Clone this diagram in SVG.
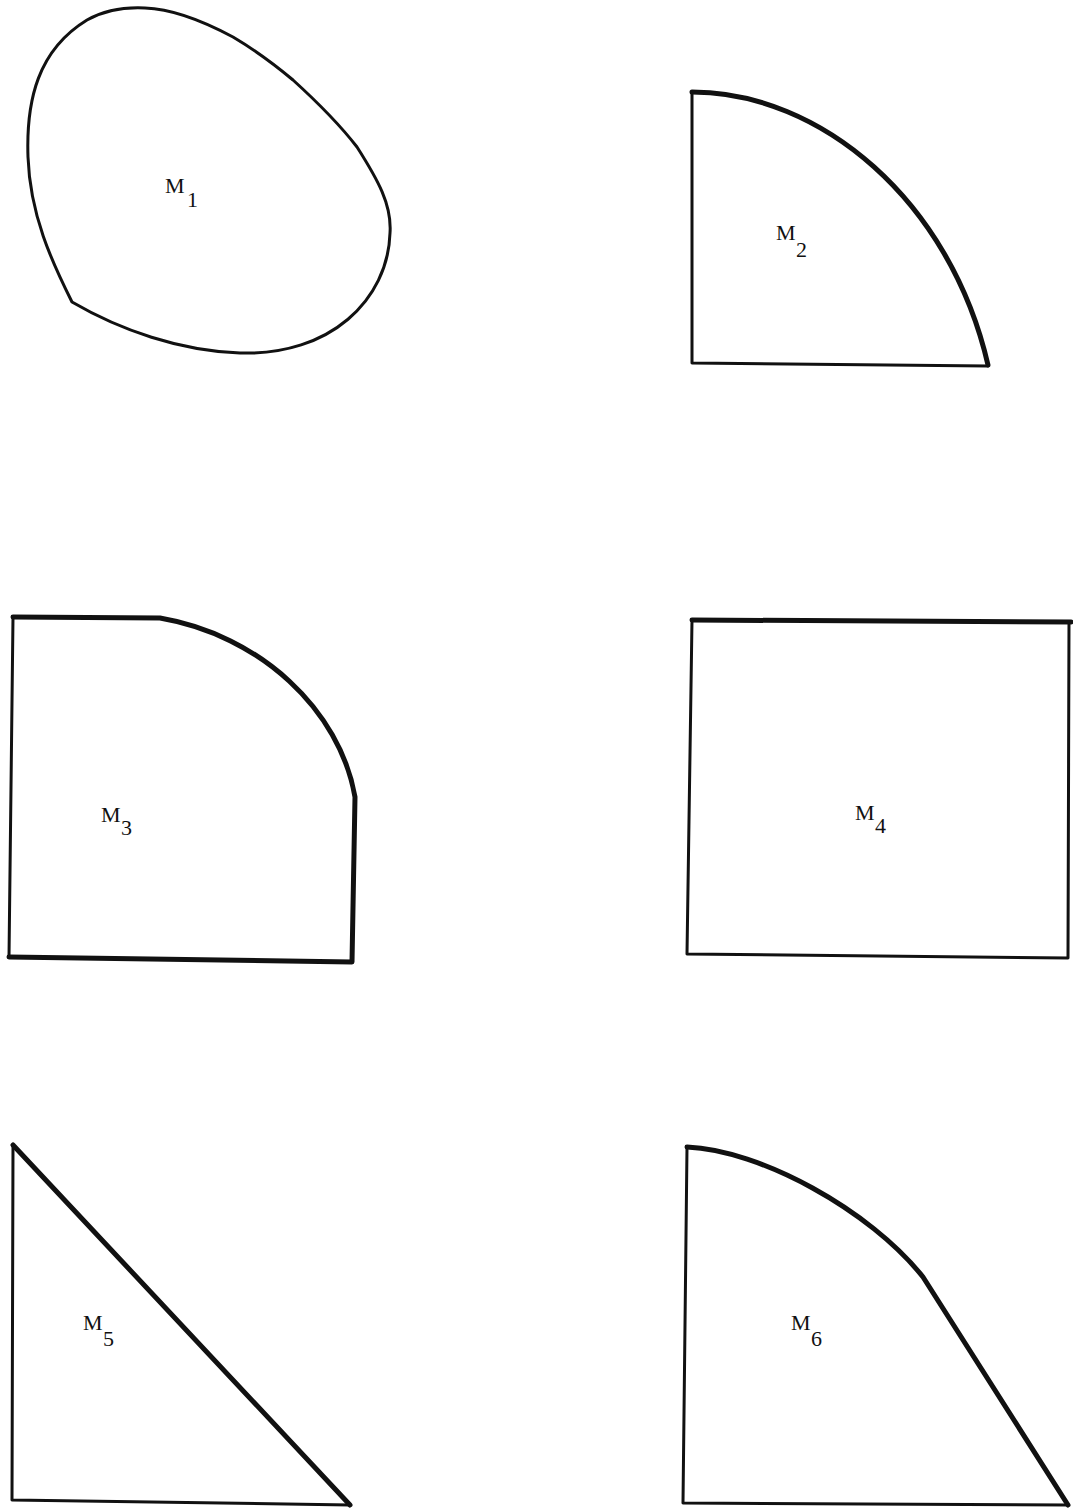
<svg xmlns="http://www.w3.org/2000/svg" width="1073" height="1510" viewBox="0 0 1073 1510">
<style>
.thin{fill:none;stroke:#111;stroke-width:3;stroke-linejoin:round;stroke-linecap:round}
.thick{fill:none;stroke:#111;stroke-width:5;stroke-linejoin:round;stroke-linecap:round}
.lbl{font-family:"Liberation Serif","DejaVu Serif",serif;font-size:22px;fill:#111}
</style>
<rect width="1073" height="1510" fill="#fff"/>
<g id="M1">
<path class="thin" d="M72,302 C52,262 30,215 28,157 C26,100 38,50 87,20 C105,10 125,7 145,8 C175,9 205,22 233,37 C255,50 275,65 293,80 C315,100 340,125 357,147 C378,180 392,205 390,233 C388,300 330,356 240,353 C180,351 120,330 72,302 Z"/>
<text class="lbl" x="165" y="193">M</text><text class="lbl" x="187" y="207">1</text>
</g>
<g id="M2">
<path class="thin" d="M692,92 L692,363 L988,366"/>
<path class="thick" d="M692,92 C820,92 950,200 988,365"/>
<text class="lbl" x="776" y="240">M</text><text class="lbl" x="796" y="257">2</text>
</g>
<g id="M3">
<path class="thin" d="M13,617 L9,957"/>
<path class="thick" d="M9,957 L352,962 L355,797 C340,710 260,635 160,618 L13,617"/>
<text class="lbl" x="101" y="822">M</text><text class="lbl" x="121" y="835">3</text>
</g>
<g id="M4">
<path class="thin" d="M692,620 L687,954 L1068,958 L1069,622"/>
<path class="thick" d="M692,620 L1071,622"/>
<text class="lbl" x="855" y="820">M</text><text class="lbl" x="875" y="833">4</text>
</g>
<g id="M5">
<path class="thin" d="M13,1145 L12,1500 L350,1505"/>
<path class="thick" d="M13,1145 L350,1505"/>
<text class="lbl" x="83" y="1330">M</text><text class="lbl" x="103" y="1346">5</text>
</g>
<g id="M6">
<path class="thin" d="M687,1147 L683,1503 L1068,1505"/>
<path class="thick" d="M687,1147 C760,1150 870,1210 923,1277 L1068,1505"/>
<text class="lbl" x="791" y="1330">M</text><text class="lbl" x="811" y="1346">6</text>
</g>
</svg>
